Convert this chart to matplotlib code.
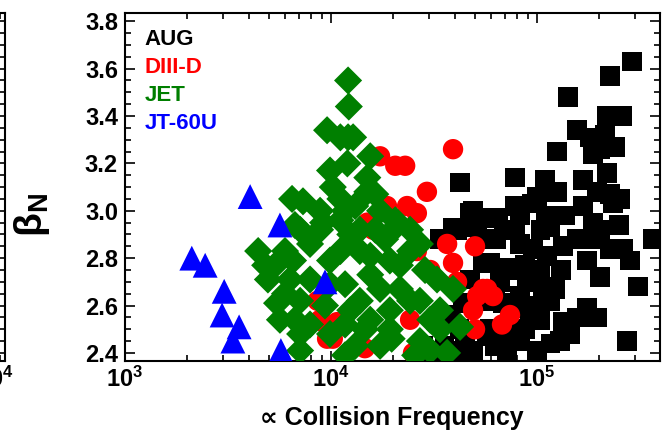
import matplotlib
matplotlib.use('Agg')
import matplotlib.pyplot as plt
from matplotlib.transforms import ScaledTranslation
from matplotlib.ticker import FixedLocator, MultipleLocator, LogLocator, NullFormatter, FormatStrFormatter

plt.rcParams['font.family'] = ['Liberation Sans', 'DejaVu Sans']
plt.rcParams['font.weight'] = 'bold'
plt.rcParams['mathtext.fontset'] = 'custom'
plt.rcParams['mathtext.rm'] = 'Liberation Sans'
plt.rcParams['mathtext.bf'] = 'Liberation Sans:bold'

# beta_N against normalised collision frequency, per machine
aug_x = [2.89e5, 2.26e5, 1.41e5, 2.19e5, 2.59e5, 1.56e5, 1.81e5, 1.25e5, 2.39e5, 1.87e5,
         7.82e4, 4.23e4, 1.00e5, 1.25e5, 1.67e5, 2.19e5, 1.96e5, 2.26e5, 2.34e5, 1.67e5,
         1.87e5, 9.46e4, 6.47e4, 4.89e4, 4.09e4, 1.16e5, 1.56e5, 8.26e4, 9.57e4, 1.12e5,
         2.61e5, 2.83e5, 3.66e5, 2.02e5, 3.09e5, 2.26e5, 1.75e5, 1.34e5, 1.07e5, 8.94e4,
         7.15e4, 6.61e4, 5.91e4, 5.12e4, 5.72e4, 8.26e4, 1.75e5, 1.96e5, 1.56e5, 2.73e5,
         1.34e5, 1.16e5, 9.25e4, 8.26e4, 7.15e4, 4.89e4, 5.72e4, 1.00e5, 8.00e4, 6.84e4,
         4.73e4, 3.91e4, 3.38e4, 5.47e4, 2.80e4, 4.38e4, 3.10e4, 3.55e4,
         1.10e5, 7.82e4, 1.31e5, 1.16e5, 6.30e4, 5.30e4, 4.20e4, 2.02e5, 2.50e5,
         1.04e5, 1.37e5, 1.91e5, 2.52e5, 2.02e5, 2.13e5, 7.39e4, 6.25e4, 9.77e4, 4.73e4,
         5.30e4, 6.90e4, 8.26e4, 5.91e4, 4.00e4, 1.29e5, 1.45e5,
         6.25e4, 8.75e4, 1.04e5, 7.39e4, 4.47e4, 3.79e4, 1.04e5, 1.22e5, 8.75e4, 7.82e4,
         1.09e5]
aug_y = [3.63, 3.57, 3.48, 3.40, 3.40, 3.34, 3.31, 3.25, 3.27, 3.24,
         3.14, 3.12, 3.06, 3.08, 3.13, 3.16, 3.08, 3.07, 3.03, 3.02,
         2.95, 3.03, 2.97, 3.00, 2.92, 2.93, 2.88, 2.86, 2.84, 2.81,
         2.84, 2.79, 2.88, 2.72, 2.68, 2.84, 2.79, 2.85, 2.68, 2.70,
         2.76, 2.70, 2.78, 2.93, 2.97, 2.64, 2.59, 2.55, 2.55, 2.45,
         2.53, 2.44, 2.54, 2.45, 2.41, 2.41, 2.47, 2.41, 2.59, 2.61,
         2.99, 2.93, 2.88, 2.78, 2.43, 2.61, 2.41, 2.43,
         2.98, 2.92, 2.75, 2.62, 2.88, 2.62, 2.50, 2.92, 2.94,
         2.92, 2.98, 2.88, 3.05, 3.26, 3.32, 2.75, 2.62, 2.60, 2.71,
         2.88, 2.92, 2.98, 2.50, 2.41, 2.45, 2.48,
         2.43, 2.50, 2.54, 2.48, 2.48, 2.56, 2.75, 2.67, 2.77, 3.02,
         3.13]

d3d_x = [3.91e4, 1.73e4, 2.05e4, 2.29e4, 2.92e4, 1.87e4, 2.34e4, 2.61e4, 1.50e4, 1.60e4,
         3.66e4, 5.00e4, 3.91e4, 4.09e4, 5.12e4, 5.47e4, 4.89e4, 5.00e4, 2.42e4, 9.15e3,
         1.02e4, 2.50e4, 1.46e4, 2.61e4, 3.03e4, 5.72e4, 6.11e4, 7.39e4, 6.76e4, 8.85e3,
         9.57e3, 1.07e4, 8.60e3]
d3d_y = [3.26, 3.23, 3.19, 3.19, 3.08, 3.02, 3.02, 2.99, 2.95, 2.92,
         2.86, 2.85, 2.78, 2.70, 2.64, 2.67, 2.58, 2.50, 2.54, 2.53,
         2.46, 2.40, 2.42, 2.83, 2.75, 2.67, 2.64, 2.56, 2.52, 2.54,
         2.46, 2.53, 2.62]

jet_x = [1.21e4, 1.22e4, 9.57e3, 1.21e4, 9.89e3, 1.20e4, 1.55e4, 1.50e4, 1.02e4, 1.64e4,
         6.47e3, 7.31e3, 4.43e3, 4.94e3, 5.47e3, 5.65e3, 7.08e3, 6.54e3, 7.91e3, 8.85e3,
         1.11e4, 1.31e4, 1.73e4, 2.05e4, 2.42e4, 2.70e4, 1.83e4, 1.38e4, 9.89e3, 7.91e3,
         1.17e4, 1.55e4, 2.16e4, 2.86e4, 3.27e4, 3.91e4, 4.23e4, 3.66e4, 3.03e4, 2.42e4,
         1.93e4, 1.55e4, 1.24e4, 9.35e3, 7.91e3, 9.89e3, 1.31e4, 1.73e4, 1.97e4, 2.70e4,
         1.38e4, 1.11e4, 8.85e3, 6.68e3, 4.79e3, 5.98e3, 2.56e4, 1.17e4, 7.08e3, 2.00e4,
         9.15e3, 1.50e4, 1.28e4, 1.11e4,
         7.08e3, 5.98e3, 5.35e3, 6.32e3, 7.08e3, 6.68e3, 9.89e3, 1.11e4, 1.24e4, 1.64e4,
         1.55e4, 1.93e4, 2.42e4, 1.73e4, 1.38e4, 2.16e4, 2.70e4, 3.38e4, 3.38e4, 1.93e4,
         1.46e4, 1.17e4, 3.03e4, 1.17e4]
jet_y = [3.55, 3.44, 3.34, 3.31, 3.17, 3.20, 3.23, 3.14, 3.10, 3.07,
         3.05, 3.04, 2.83, 2.71, 2.61, 2.54, 2.48, 2.79, 2.86, 2.92,
         2.96, 3.02, 3.00, 2.96, 2.92, 2.86, 2.88, 2.83, 2.79, 2.71,
         2.69, 2.73, 2.77, 2.75, 2.71, 2.67, 2.51, 2.40, 2.54, 2.62,
         2.58, 2.54, 2.58, 2.60, 2.52, 2.48, 2.43, 2.43, 2.46, 2.45,
         2.92, 3.05, 3.00, 2.94, 2.77, 2.65, 2.39, 2.39, 2.41, 2.92,
         2.95, 3.08, 3.31, 3.31,
         2.92, 2.83, 2.77, 2.71, 2.62, 2.54, 2.69, 2.83, 2.90, 2.92,
         2.81, 2.79, 2.83, 2.67, 2.62, 2.67, 2.62, 2.58, 2.50, 2.50,
         2.50, 2.52, 2.41, 3.00]

jt60_x = [4.05e3, 2.11e3, 2.45e3, 5.65e3, 3.03e3, 2.96e3, 3.58e3, 3.34e3, 5.71e3, 9.35e3]
jt60_y = [3.06, 2.80, 2.77, 2.94, 2.66, 2.56, 2.51, 2.45, 2.41, 2.70]

machines = ['AUG', 'DIII-D', 'JET', 'JT-60U']
colors = ['black', '#ff0000', '#007f00', '#0000ff']

fig = plt.figure(figsize=(6.68, 4.32), dpi=100)

ymin, ymax = 2.366, 3.835
x_lo, x_hi = 1e3, 3.95e5


def style_axes(a):
    for s in a.spines.values():
        s.set_linewidth(1.5)
    a.tick_params(which='both', direction='in', top=True, right=True, width=1.2)
    a.tick_params(which='major', length=7)
    a.tick_params(which='minor', length=4)
    a.tick_params(axis='y', labelsize=17, pad=5)
    a.tick_params(axis='x', labelsize=17, pad=4)
    a.set_ylim(ymin, ymax)
    a.yaxis.set_major_locator(MultipleLocator(0.2))
    a.yaxis.set_minor_locator(MultipleLocator(0.05))
    a.yaxis.set_major_formatter(FormatStrFormatter('%.1f'))


# neighbouring panel, only its right edge falls inside the figure
ax0 = fig.add_axes([-0.2925, 0.1644, 0.3, 0.8056])
ax0.set_xscale('log')
ax0.set_xlim(1e2, 1e4)
style_axes(ax0)
ax0.xaxis.set_major_locator(FixedLocator([1e2, 1e3, 1e4]))
ax0.set_xticklabels([r'$\mathbf{10^{2}}$', r'$\mathbf{10^{3}}$', r'$\mathbf{10^{4}}$'])
ax0.xaxis.set_minor_locator(LogLocator(base=10, subs=range(2, 10)))
ax0.xaxis.set_minor_formatter(NullFormatter())
shift = ScaledTranslation(-0.10, 0, fig.dpi_scale_trans)
for lab in ax0.get_xticklabels():
    lab.set_transform(lab.get_transform() + shift)

ax = fig.add_axes([0.1871, 0.1644, 0.8009, 0.8056])
ax.set_xscale('log')
style_axes(ax)
ax.set_xlim(x_lo, x_hi)

ax.scatter(aug_x, aug_y, marker='s', s=200, color=colors[0], edgecolors='none', zorder=2)
ax.scatter(d3d_x, d3d_y, marker='o', s=215, color=colors[1], edgecolors='none', zorder=3)
ax.scatter(jet_x, jet_y, marker='D', s=205, color=colors[2], edgecolors='none', zorder=4)
ax.scatter(jt60_x, jt60_y, marker='^', s=320, color=colors[3], edgecolors='none', zorder=5)

ax.xaxis.set_major_locator(FixedLocator([1e3, 1e4, 1e5]))
ax.set_xticklabels([r'$\mathbf{10^{3}}$', r'$\mathbf{10^{4}}$', r'$\mathbf{10^{5}}$'])
ax.xaxis.set_minor_locator(LogLocator(base=10, subs=range(2, 10)))
ax.xaxis.set_minor_formatter(NullFormatter())

# machine names as a coloured text legend
for i, (name, c) in enumerate(zip(machines, colors)):
    ax.text(0.037, 0.908 - i * 0.0805, name, color=c, fontsize=16,
            fontweight='bold', transform=ax.transAxes, va='baseline', ha='left')

fig.text(32 / 668, 1 - 215 / 432, r'$\mathrm{\beta}_{\mathbf{N}}$', rotation=90,
         fontsize=28, ha='center', va='center')
fig.text(392 / 668, 1 - 425 / 432, '\u221d Collision Frequency', fontsize=18,
         fontweight='bold', ha='center', va='baseline')

fig.savefig('out.png', dpi=100)
